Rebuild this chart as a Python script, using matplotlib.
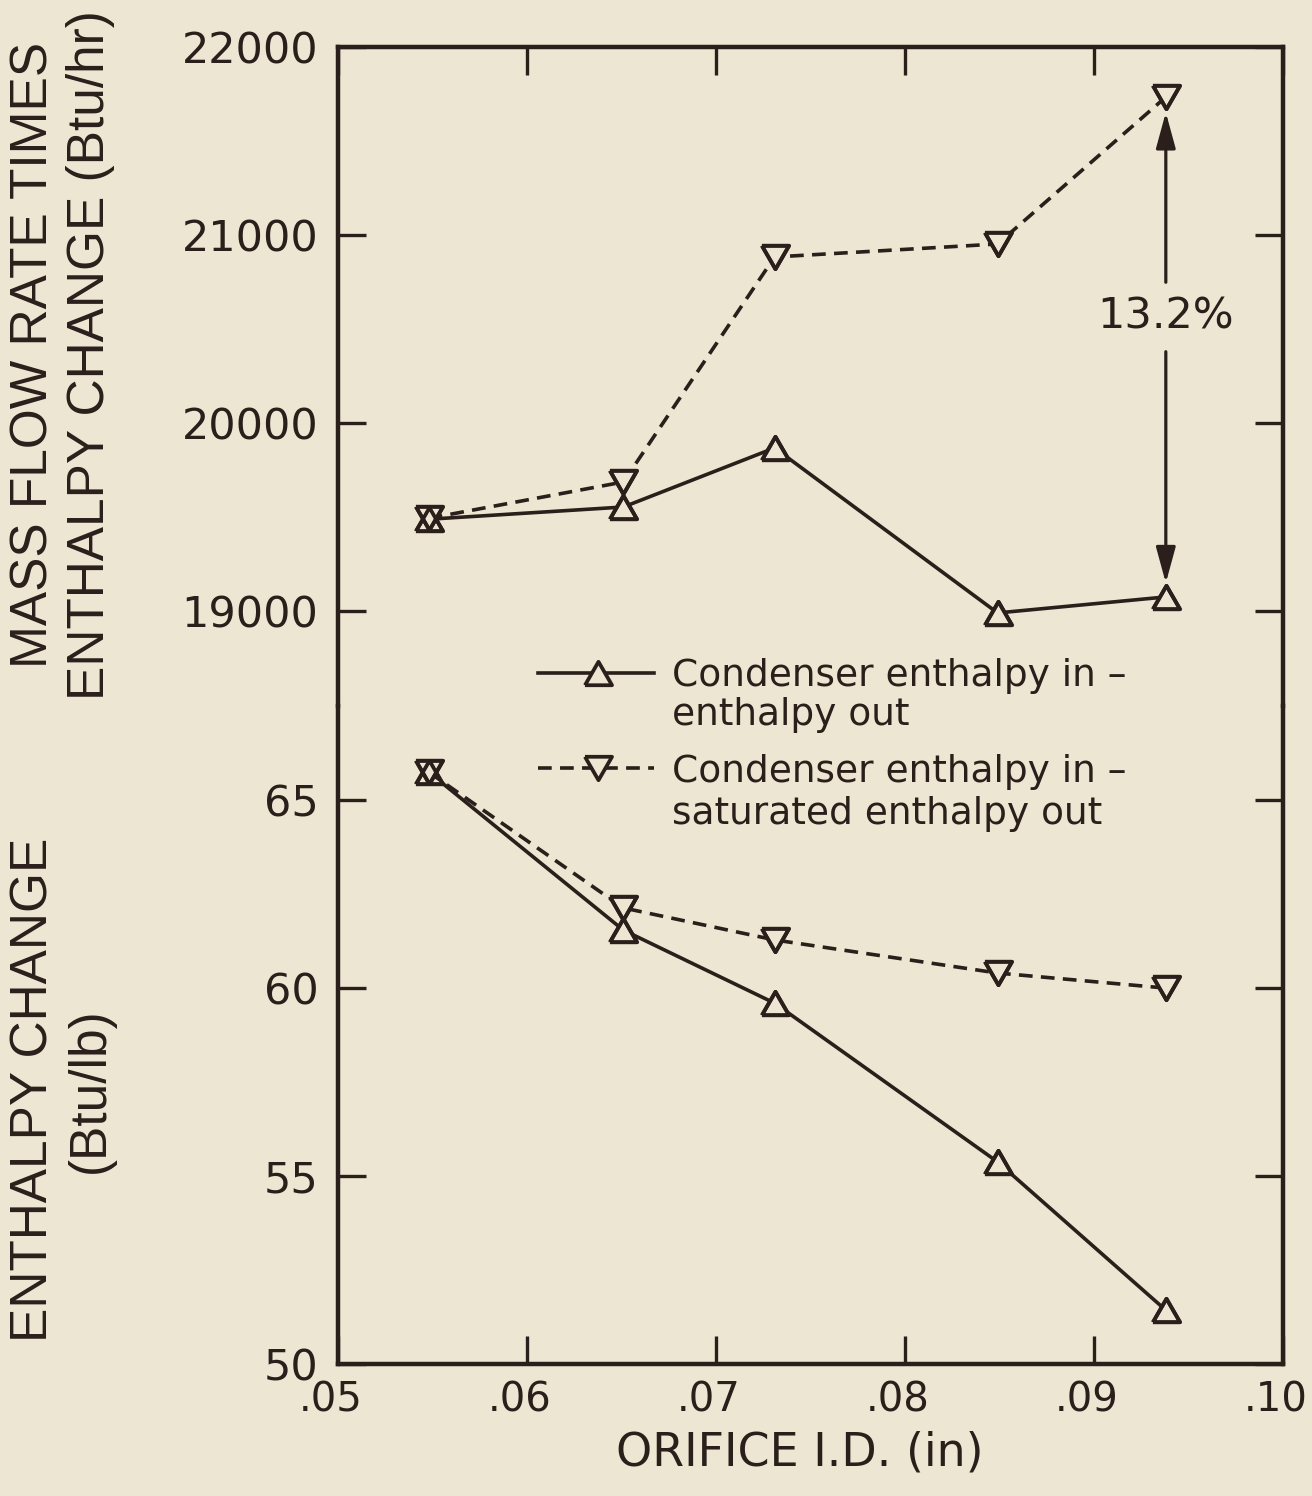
import matplotlib
matplotlib.use("Agg")
import matplotlib.pyplot as plt
from matplotlib.lines import Line2D
from matplotlib.transforms import ScaledTranslation

# ---------------- data ----------------
orifice_id = [0.0548, 0.0651, 0.0731, 0.0849, 0.0938]          # in
# mass flow rate times enthalpy change (Btu/hr)
q_actual = [19490, 19555, 19869, 18992, 19077]                  # h_in - h_out
q_sat = [19495, 19688, 20884, 20953, 21734]                     # h_in - h_sat,out
# enthalpy change (Btu/lb)
dh_actual = [65.73, 61.53, 59.59, 55.37, 51.43]
dh_sat = [65.73, 62.12, 61.27, 60.39, 59.99]

x_ticks = [0.05, 0.06, 0.07, 0.08, 0.09, 0.10]
x_ticklabels = [".05", ".06", ".07", ".08", ".09", ".10"]
upper_ticks = [19000, 20000, 21000, 22000]
lower_ticks = [50, 55, 60, 65]
upper_ylim = (18500, 22000)
lower_ylim = (50, 67.5)

diff_label = "13.2%"
diff_label_y = 20565

legend_lines = [["Condenser enthalpy in \u2013", "enthalpy out"],
                ["Condenser enthalpy in \u2013", "saturated enthalpy out"]]
upper_ylabel = "MASS FLOW RATE TIMES\nENTHALPY CHANGE (Btu/hr)"
lower_ylabel = "ENTHALPY CHANGE\n(Btu/lb)"
x_label = "ORIFICE I.D. (in)"

# ---------------- style ----------------
BG = "#ECE6D2"
INK = "#2A1F1A"
W_PX, H_PX = 1312, 1496
plt.rcParams["font.family"] = ["DejaVu Sans"]

UP = [(-1, -0.866), (1, -0.866), (0, 0.866), (-1, -0.866)]
DOWN = [(-1, 0.866), (1, 0.866), (0, -0.866), (-1, 0.866)]
MS = 19.5
MEW = 2.7
LW = 2.6
DASH = (0, (3.8, 2.3))

fig = plt.figure(figsize=(W_PX / 100, H_PX / 100), dpi=100, facecolor=BG)

left_px, right_px, top_px, bottom_px = 338, 1283, 47, 1364
L = left_px / W_PX
Wd = (right_px - left_px) / W_PX
B = 1 - bottom_px / H_PX
Ht = (bottom_px - top_px) / H_PX
half = Ht / 2

ax_bot = fig.add_axes([L, B, Wd, half])
ax_top = fig.add_axes([L, B + half, Wd, half])

for ax in (ax_top, ax_bot):
    ax.set_facecolor("none")
    ax.set_xlim(0.05, 0.10)
    for s in ax.spines.values():
        s.set_linewidth(3.2)
        s.set_color(INK)
    ax.tick_params(direction="in", length=20, width=2.4, color=INK,
                   labelcolor=INK, labelsize=31, pad=14)
    ax.tick_params(axis="y", left=True, right=True)

ax_top.spines["bottom"].set_visible(False)
ax_bot.spines["top"].set_visible(False)

ax_top.set_ylim(*upper_ylim)
ax_bot.set_ylim(*lower_ylim)
ax_top.set_yticks(upper_ticks, [str(v) for v in upper_ticks])
ax_bot.set_yticks(lower_ticks, [str(v) for v in lower_ticks])

ax_top.set_xticks(x_ticks)
ax_top.tick_params(axis="x", top=True, bottom=False, labeltop=False, labelbottom=False)
ax_bot.set_xticks(x_ticks, x_ticklabels)
ax_bot.tick_params(axis="x", top=False, bottom=True, labelbottom=True, pad=12,
                   labelsize=29)
shift = ScaledTranslation(-7 / 100, 0, fig.dpi_scale_trans)
for lab in ax_bot.get_xticklabels():
    lab.set_transform(lab.get_transform() + shift)


def draw(ax, y_act, y_sat):
    ax.plot(orifice_id, y_act, color=INK, lw=LW, ls="-", marker=UP, ms=MS,
            mfc=BG, mec=INK, mew=MEW, zorder=3)
    ax.plot(orifice_id, y_sat, color=INK, lw=LW, ls=DASH, marker=DOWN, ms=MS,
            mfc=BG, mec=INK, mew=MEW, zorder=3)
    ax.plot(orifice_id, y_act, ls="none", marker=UP, ms=MS, mfc="none",
            mec=INK, mew=MEW, zorder=4)
    ax.plot(orifice_id, y_sat, ls="none", marker=DOWN, ms=MS, mfc="none",
            mec=INK, mew=MEW, zorder=4)


draw(ax_top, q_actual, q_sat)
draw(ax_bot, dh_actual, dh_sat)

# difference arrow with label
xa = orifice_id[-1]
arrow_kw = dict(arrowstyle="-|>,head_length=1.1,head_width=0.3", color=INK,
                lw=2.3, mutation_scale=20)
ax_top.annotate("", xy=(xa, q_sat[-1]), xytext=(xa, diff_label_y),
                arrowprops=dict(shrinkA=25, shrinkB=11, **arrow_kw))
ax_top.annotate("", xy=(xa, q_actual[-1]), xytext=(xa, diff_label_y),
                arrowprops=dict(shrinkA=25, shrinkB=10, **arrow_kw))
ax_top.text(xa, diff_label_y, diff_label, ha="center", va="center",
            fontsize=31, color=INK)

# manual legend (figure pixel positions)
def fx(px):
    return px / W_PX


def fy(py):
    return 1 - py / H_PX


handle_y = [673, 768]
text_base = [[686, 725], [782, 824]]
styles = [("-", UP), (DASH, DOWN)]
for (ls, mk), hy, tb, lines in zip(styles, handle_y, text_base, legend_lines):
    fig.add_artist(Line2D([fx(538), fx(654)], [fy(hy), fy(hy)], color=INK,
                          lw=LW, ls=ls, transform=fig.transFigure))
    fig.add_artist(Line2D([fx(598)], [fy(hy)], ls="none", marker=mk, ms=MS,
                          mfc=BG, mec=INK, mew=MEW, transform=fig.transFigure))
    for b, t in zip(tb, lines):
        fig.text(fx(672), fy(b), t, ha="left", va="baseline", fontsize=27,
                 color=INK)

# axis labels
fig.text(fx(62), fy(355), upper_ylabel, rotation=90, ha="center", va="center",
         fontsize=37, family=["Liberation Sans"], color=INK,
         multialignment="center", linespacing=1.2)
fig.text(fx(62), fy(1090), lower_ylabel, rotation=90, ha="center", va="center",
         fontsize=37, family=["Liberation Sans"], color=INK,
         multialignment="center", linespacing=1.2)
fig.text(fx(800), fy(1453), x_label, ha="center", va="center", fontsize=33,
         color=INK)

fig.savefig("out.png", dpi=100, facecolor=BG)
